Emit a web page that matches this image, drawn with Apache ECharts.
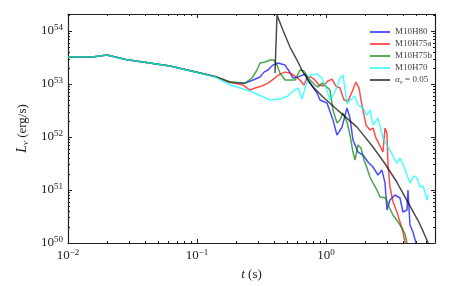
<!DOCTYPE html>
<html><head><meta charset="utf-8">
<script src="https://cdn.jsdelivr.net/npm/echarts@6/dist/echarts.min.js"></script>
<style>html,body{margin:0;padding:0;background:#fff}#c{width:458px;height:286px}</style>
</head><body><div id="c"></div>
<script>
// t (s), L_nu (erg/s)
const seriesNames = ['M10H80','M10H75a','M10H75b','M10H70','αν = 0.05'];
const m10h80 = [[0.01,3.23e53],[0.0154,3.23e53],[0.0201,3.53e53],[0.028,2.9e53],[0.0618,2.19e53],[0.1055,1.61e53],[0.14,1.37e53],[0.180,1.07e53],
 [0.236,1.04e53],[0.272,1.19e53],[0.308,1.36e53],[0.331,1.68e53],[0.355,1.84e53],[0.388,2.28e53],[0.425,2.49e53],[0.481,2.28e53],[0.517,1.76e53],[0.555,1.30e53],[0.607,1.36e53],[0.687,1.54e53],[0.738,1.09e53],[0.793,8.78e52],[0.852,6.77e52],[0.899,4.99e52],[1.018,4.38e52],[1.133,2.09e52],[1.217,1.09e52],[1.331,1.54e52],[1.455,3.53e52],[1.535,2.28e52],[1.619,8.78e51],[1.770,5.21e51],[1.936,4.58e51],[2.116,3.38e51],[2.314,2.72e51],[2.530,1.92e51],[2.717,2.38e51],[2.867,1.36e51],[2.971,4.19e50],[3.134,6.48e50],[3.427,8.05e50],[3.747,7.07e50],[3.953,3.85e50],[4.246,4.19e50],[4.322,1.0e51],[4.479,2.19e50],[4.726,1.61e50],[4.986,1.0e50],[5.1,0.8e50]];
const m10h75a = [[0.01,3.23e53],[0.0154,3.23e53],[0.0201,3.53e53],[0.028,2.9e53],[0.0618,2.19e53],[0.1055,1.61e53],[0.14,1.37e53],[0.180,1.09e53],
 [0.227,9.57e52],[0.258,7.70e52],[0.282,8.41e52],[0.319,9.17e52],[0.355,1.04e53],[0.382,1.19e53],[0.410,1.36e53],[0.440,1.54e53],[0.481,1.68e53],[0.526,1.61e53],[0.575,1.42e53],[0.629,1.19e53],[0.675,9.57e52],[0.712,1.30e53],[0.765,1.36e53],[0.822,1.19e53],[0.882,9.57e52],[0.948,9.17e52],[1.036,1.14e53],[1.113,1.24e53],[1.195,9.17e52],[1.284,8.41e52],[1.379,4.99e52],[1.481,4.78e52],[1.591,7.07e52],[1.708,1.09e53],[1.803,8.41e52],[1.901,4.02e52],[2.042,1.68e52],[2.193,1.36e52],[2.314,1.48e52],[2.441,9.57e51],[2.622,6.77e51],[2.766,5.21e51],[2.867,1.48e52],[2.971,1.19e52],[3.024,2.96e51],[3.134,1.14e51],[3.307,5.94e50],[3.552,3.85e50],[3.747,2.49e50],[3.953,1.61e50],[4.097,1.04e50],[4.17,0.8e50]];
const m10h75b = [[0.01,3.23e53],[0.0154,3.23e53],[0.0201,3.53e53],[0.028,2.9e53],[0.0618,2.19e53],[0.1055,1.61e53],[0.14,1.38e53],[0.180,1.10e53],
 [0.236,1.04e53],[0.267,1.30e53],[0.292,1.84e53],[0.308,2.49e53],[0.337,2.60e53],[0.368,2.84e53],[0.395,2.84e53],[0.417,2.28e53],[0.440,1.61e53],[0.481,1.19e53],[0.575,1.19e53],[0.629,1.84e53],[0.675,1.76e53],[0.752,1.19e53],[0.822,9.57e52],[0.867,8.78e52],[0.931,1.04e53],[1.018,8.78e52],[1.074,7.70e52],[1.133,3.23e52],[1.217,1.84e52],[1.284,2.09e52],[1.355,2.84e52],[1.455,1.92e52],[1.535,1.09e52],[1.619,5.21e51],[1.678,3.68e51],[1.770,7.07e51],[1.867,6.20e51],[1.971,3.68e51],[2.079,2.60e51],[2.193,1.76e51],[2.314,1.36e51],[2.485,1.0e51],[2.622,7.38e50],[2.918,7.07e50],[3.079,4.78e50],[3.307,3.38e50],[3.615,2.49e50],[3.883,1.92e50],[4.097,1.48e50],[4.246,1.0e50],[4.32,0.8e50]];
const m10h70 = [[0.01,3.23e53],[0.0154,3.23e53],[0.0201,3.53e53],[0.028,2.9e53],[0.0618,2.19e53],[0.1055,1.60e53],[0.14,1.34e53],[0.180,9.6e52],
 [0.258,7.38e52],[0.368,4.99e52],[0.440,5.21e52],[0.507,5.94e52],[0.555,7.38e52],[0.607,8.41e52],[0.652,5.21e52],[0.700,9.57e52],[0.752,1.48e53],[0.852,1.54e53],[0.931,1.30e53],[1.0,8.41e52],[1.074,4.99e52],[1.174,7.07e52],[1.284,1.30e53],[1.355,1.48e53],[1.455,4.19e52],[1.535,4.99e52],[1.678,5.94e52],[1.770,4.02e52],[1.936,3.53e52],[2.079,2.60e52],[2.193,3.23e52],[2.314,1.68e52],[2.530,2.28e52],[2.766,9.57e51],[2.971,7.07e51],[3.134,5.68e51],[3.367,4.02e51],[3.552,3.23e51],[3.747,4.02e51],[3.953,3.09e51],[4.246,1.92e51],[4.479,1.36e51],[4.811,1.84e51],[5.075,1.68e51],[5.355,1.14e51],[5.650,1.19e51],[5.855,9.17e50],[6.067,6.48e50],[6.176,8.05e50]];
const alpha005 = [[0.4025,1.61e53],[0.4171,2.0e54],[0.464,1.04e54],[0.526,4.99e53],[0.596,2.84e53],[0.663,1.68e53],[0.793,8.78e52],[0.948,5.70e52],[1.217,3.3e52],[1.284,2.96e52],[1.74,1.54e52],[2.314,6.5e51],[2.85,3.2e51],[3.55,1.4e51],[4.3,6.0e50],[5.2,2.6e50],[5.7,1.6e50],[6.2,1.0e50],[6.4,0.85e50]];
const colors = ['#0000ff','#ff0000','#008000','#00ffff','#000000'];
const xMajor = [0.01,0.1,1];
const xMinor = [0.02,0.03,0.04,0.05,0.06,0.07,0.08,0.09,0.2,0.3,0.4,0.5,0.6,0.7,0.8,0.9,2,3,4,5,6,7];
const yMajor = [1e50,1e51,1e52,1e53,1e54];
const yMinor = [2e50,3e50,4e50,5e50,6e50,7e50,8e50,9e50,2e51,3e51,4e51,5e51,6e51,7e51,8e51,9e51,2e52,3e52,4e52,5e52,6e52,7e52,8e52,9e52,2e53,3e53,4e53,5e53,6e53,7e53,8e53,9e53,2e54];
const X_MIN = 0.01, X_MAX = 7, Y_MIN = 1e50, Y_MAX = 2.1e54;

const serif = 'Liberation Serif';
const supFmt = v => { const e = Math.round(Math.log10(v)); return '{b|10}{sup|' + String(e).replace('-', '\u2212') + '}'; };
const labRich = { b: {fontSize: 13, fontFamily: serif, color: '#222', lineHeight: 15}, sup: {fontSize: 9, fontFamily: serif, color: '#222', lineHeight: 9, padding: [0,0,6,0]} };

function xAx(pos, major, showLabel) {
  return { type: 'log', logBase: 10, min: X_MIN, max: X_MAX, position: pos, gridIndex: 0,
    axisLine: {show: major, onZero: false, lineStyle: {color: '#222', width: 1.2}},
    axisTick: {show: true, inside: true, length: major ? 4 : 2, customValues: major ? xMajor : xMinor, lineStyle: {color: '#222', width: 1}},
    axisLabel: {show: showLabel, customValues: xMajor, formatter: supFmt, rich: labRich, margin: 5},
    splitLine: {show: false}, minorTick: {show: false},
    name: showLabel ? '{i|t} (s)' : '', nameLocation: 'middle', nameGap: 22,
    nameTextStyle: {fontFamily: serif, fontSize: 13, color: '#222', rich: {i: {fontFamily: serif, fontStyle: 'italic', fontSize: 13, color: '#222'}}} };
}
function yAx(pos, major, showLabel) {
  return { type: 'log', logBase: 10, min: Y_MIN, max: Y_MAX, position: pos, gridIndex: 0,
    axisLine: {show: major, onZero: false, lineStyle: {color: '#222', width: 1.2}},
    axisTick: {show: true, inside: true, length: major ? 4 : 2, customValues: major ? yMajor : yMinor, lineStyle: {color: '#222', width: 1}},
    axisLabel: {show: showLabel, customValues: yMajor, formatter: supFmt, rich: labRich, margin: 5},
    splitLine: {show: false}, minorTick: {show: false},
    name: showLabel ? '{i|L}{sub|ν} (erg/s)' : '', nameLocation: 'middle', nameGap: 32, nameRotate: 90,
    nameTextStyle: {fontFamily: serif, fontSize: 13, color: '#222', rich: {
      i: {fontFamily: serif, fontStyle: 'italic', fontSize: 14, color: '#222'},
      sub: {fontFamily: serif, fontStyle: 'italic', fontSize: 9, color: '#222', padding: [6,0,0,0]}}} };
}

const datasets = [m10h80, m10h75a, m10h75b, m10h70, alpha005];
const chart = echarts.init(document.getElementById('c'), null, {renderer: 'canvas'});
chart.setOption({
  animation: false,
  backgroundColor: '#fff',
  grid: {left: 68, right: 23, top: 14, bottom: 43, containLabel: false},
  xAxis: [xAx('bottom', true, true), xAx('bottom', false, false), xAx('top', true, false), xAx('top', false, false)],
  yAxis: [yAx('left', true, true), yAx('left', false, false), yAx('right', true, false), yAx('right', false, false)],
  legend: {
    orient: 'vertical', left: 365, top: 21, itemWidth: 20, itemHeight: 2, itemGap: 0,
    icon: 'rect',
    data: seriesNames,
    itemStyle: {opacity: 0.65},
    formatter: n => n === 'αν = 0.05' ? '{i|α}{sub|ν} = 0.05' : n,
    textStyle: {fontFamily: serif, fontSize: 9, color: '#444', lineHeight: 12,
      rich: {i: {fontFamily: serif, fontStyle: 'italic', fontSize: 9, color: '#444'},
             sub: {fontFamily: serif, fontStyle: 'italic', fontSize: 7, color: '#444', padding: [4,0,0,0]}}}
  },
  series: datasets.map((d, i) => ({
    name: seriesNames[i], type: 'line', data: d, xAxisIndex: 0, yAxisIndex: 0,
    symbol: 'none', smooth: false, clip: true,
    lineStyle: {color: colors[i], width: 1.5, opacity: 0.7},
    itemStyle: {color: colors[i], opacity: 0.7}
  }))
});
</script></body></html>
